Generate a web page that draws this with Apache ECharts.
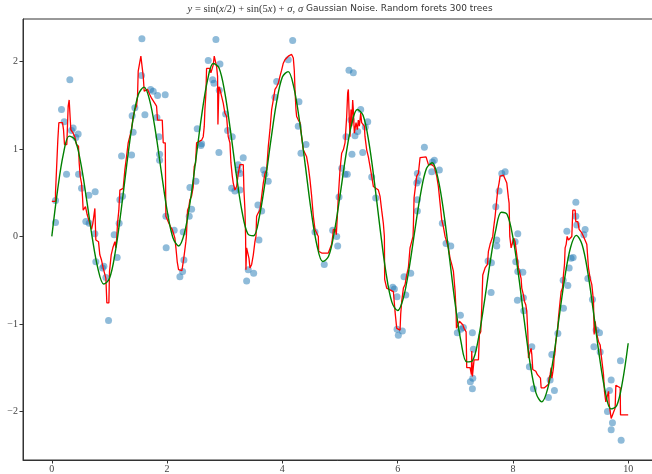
<!DOCTYPE html>
<html>
<head>
<meta charset="utf-8">
<script src="https://cdn.jsdelivr.net/npm/echarts@6/dist/echarts.min.js"></script>
<style>
  html, body { margin: 0; padding: 0; background: #fff; }
  #chart { width: 652px; height: 474px; }
</style>
</head>
<body>
<div id="chart"></div>
<script>
// Noisy training samples
const sampleX = [0.064,0.064,0.168,0.313,0.214,0.370,0.342,0.457,0.417,0.255,0.464,0.516,0.642,0.752,0.590,0.648,0.747,1.082,1.168,1.181,1.227,1.210,1.384,1.411,1.394,1.441,1.615,1.563,1.557,1.714,1.759,1.835,1.967,1.823,1.858,1.870,1.870,1.979,2.123,2.280,
  0.764,0.903,0.880,0.938,1.134,0.984,1.984,2.222,2.269,2.292,
  2.384,2.425,2.396,2.500,2.523,2.587,2.599,2.714,2.847,2.790,2.813,2.917,2.905,3.016,3.050,3.130,2.899,3.321,3.234,3.234,3.264,3.120,3.177,3.264,3.576,3.641,3.594,3.675,3.698,3.755,3.901,3.872,4.179,4.102,4.288,4.276,4.410,4.323,4.566,4.873,
  3.380,3.408,3.502,4.727,4.960,
  4.943,4.983,5.104,5.030,5.087,5.127,5.156,5.231,5.191,5.208,5.260,5.307,5.359,5.481,5.439,5.394,5.550,5.620,6.342,6.464,6.359,6.332,6.342,6.342,6.602,6.637,6.724,6.592,6.776,6.840,7.703,
  5.915,5.943,5.990,6.111,6.227,6.141,5.990,6.082,6.012,6.922,7.089,7.036,7.095,7.141,7.297,7.314,7.304,7.262,7.297,7.569,7.627,7.622,
  7.807,7.865,7.760,7.720,8.085,8.038,9.092,9.092,9.109,8.936,9.253,9.231,
  7.720,8.050,8.085,8.172,8.078,8.182,8.189,8.328,8.286,8.356,8.616,8.720,8.646,8.675,8.780,8.877,8.953,8.872,8.976,9.010,9.045,9.300,9.380,9.444,9.502,9.405,9.514,9.705,9.675,9.641,9.727,9.705,9.878,9.866];
const sampleY = [0.41,0.16,1.45,1.79,1.31,1.24,1.21,1.17,1.13,0.71,0.71,0.55,0.47,0.51,0.17,0.15,0.03,0.02,0.15,0.42,0.46,0.92,0.93,1.19,1.38,1.47,1.39,2.26,1.84,1.68,1.66,1.61,1.62,1.36,1.14,0.94,0.87,0.23,0.07,0.05,
  -0.29,-0.34,-0.36,-0.47,-0.24,-0.96,-0.13,-0.46,-0.40,-0.27,
  0.23,0.31,0.56,0.63,1.23,1.04,1.06,2.01,2.25,1.79,1.75,1.97,1.67,1.40,1.21,1.14,0.96,0.90,0.82,0.76,0.72,0.55,0.52,0.53,0.36,0.29,-0.04,0.76,0.71,0.63,1.77,1.59,2.24,2.02,1.54,1.26,1.05,0.95,0.05,0.07,
  -0.51,-0.38,-0.42,-0.32,-0.11,
  0.00,0.45,1.14,0.78,0.71,0.71,1.90,1.87,1.33,0.94,1.15,1.20,1.45,1.31,1.25,0.96,0.68,0.44,0.72,1.02,0.64,0.61,0.42,0.29,0.85,0.87,0.76,0.74,0.15,-0.08,0.34,
  -0.58,-0.60,-0.69,-0.46,-0.42,-0.67,-1.06,-1.08,-1.13,-0.11,-0.90,-1.10,-1.06,-1.04,-1.10,-1.29,-1.62,-1.66,-1.74,-0.28,-0.30,-0.64,
  0.72,0.74,0.52,-0.04,0.03,-0.06,0.39,0.23,0.13,0.06,0.08,0.02,
  -0.11,-0.29,-0.40,-0.41,-0.73,-0.70,-0.85,-1.26,-1.49,-1.74,-1.84,-1.76,-1.64,-1.35,-1.11,-0.82,-0.56,-0.50,-0.36,-0.25,-0.24,-0.48,-0.72,-1.07,-1.10,-1.26,-1.32,-1.64,-1.76,-2.00,-2.13,-2.21,-2.33,-1.42];

// Noise-free curve, sampled every 0.1 on x from 0 to 10
const trueStep = 0.1;
const trueY = [0.000,0.529,0.941,1.147,1.108,0.846,0.437,-0.008,-0.367,-0.543,
  -0.480,-0.183,0.285,0.820,1.301,1.620,1.707,1.550,1.195,0.738,
  0.298,-0.012,-0.109,0.037,0.395,0.883,1.384,1.780,1.976,1.928,
  1.648,1.206,0.712,0.285,0.030,0.008,0.223,0.619,1.096,1.535,
  1.822,1.884,1.700,1.309,0.800,0.291,-0.101,-0.287,-0.230,0.046,
  0.466,0.917,1.278,1.451,1.384,1.081,0.606,0.064,-0.424,-0.751,
  -0.847,-0.702,-0.362,0.076,0.493,0.776,0.842,0.664,0.274,-0.246,
  -0.779,-1.206,-1.434,-1.419,-1.173,-0.769,-0.316,0.067,0.276,0.251,
  -0.012,-0.454,-0.977,-1.459,-1.788,-1.891,-1.748,-1.399,-0.934,-0.471,
  -0.127,0.012,-0.092,-0.414,-0.876,-1.367,-1.765,-1.971,-1.936,-1.665,
  -1.221];

// Random forest prediction (vertices of the stepped polyline)
const forestX = [0,0.064,0.064,0.093,0.104,0.122,0.185,0.203,0.220,0.260,0.284,0.301,0.324,0.330,0.370,0.399,0.428,0.463,0.475,0.492,0.515,0.532,0.544,0.573,0.584,0.608,0.613,0.642,0.660,0.689,0.712,0.741,0.747,0.764,0.764,0.787,0.810,0.833,0.862,0.891,0.920,0.938,0.955,0.990,1.001,1.030,1.059,1.094,1.111,1.128,1.140,1.163,1.181,1.238,1.267,1.296,1.325,1.354,1.383,1.412,1.441,1.470,1.487,1.499,1.528,1.545,1.568,1.586,1.603,1.632,1.661,1.701,1.730,1.759,1.788,1.817,1.834,1.916,1.933,1.968,1.979,2.008,2.031,2.060,2.089,2.118,2.135,2.153,2.176,2.199,2.257,2.280,2.297,2.326,2.335,2.350,2.355,2.378,2.396,2.425,2.454,2.471,2.494,2.512,2.598,2.627,2.645,2.656,2.674,2.685,2.714,2.743,2.760,2.784,2.801,2.818,2.841,2.859,2.876,2.882,2.894,2.899,2.917,2.946,2.975,3.003,3.032,3.061,3.090,3.108,3.131,3.148,3.177,3.206,3.235,3.264,3.322,3.333,3.351,3.362,3.368,3.380,3.409,3.421,3.438,3.467,3.496,3.524,3.542,3.553,3.582,3.611,3.640,3.669,3.698,3.727,3.756,3.785,3.814,3.843,3.872,3.900,3.929,3.958,3.987,4.016,4.045,4.103,4.132,4.161,4.190,4.207,4.219,4.236,4.248,4.277,4.306,4.334,4.363,4.392,4.421,4.450,4.479,4.508,4.537,4.566,4.595,4.624,4.630,4.682,4.797,4.826,4.855,4.873,4.884,4.919,4.936,4.954,4.971,5.000,5.029,5.058,5.087,5.116,5.133,5.145,5.156,5.162,5.174,5.191,5.203,5.220,5.231,5.249,5.278,5.301,5.318,5.336,5.359,5.376,5.422,5.434,5.463,5.492,5.521,5.550,5.579,5.666,5.694,5.723,5.752,5.770,5.775,5.810,5.926,5.943,5.955,5.984,6.042,6.053,6.071,6.100,6.129,6.157,6.186,6.215,6.244,6.267,6.273,6.285,6.302,6.331,6.360,6.389,6.493,6.505,6.523,6.534,6.563,6.592,6.632,6.678,6.707,6.736,6.765,6.794,6.823,6.852,6.881,6.910,6.939,6.968,6.997,7.014,7.020,7.054,7.072,7.130,7.153,7.188,7.199,7.257,7.280,7.286,7.297,7.315,7.326,7.402,7.419,7.442,7.459,7.477,7.517,7.546,7.558,7.575,7.604,7.650,7.662,7.691,7.720,7.737,7.760,7.778,7.836,7.865,7.894,7.922,7.934,7.946,7.951,7.969,7.992,8.015,8.038,8.067,8.096,8.125,8.142,8.154,8.183,8.200,8.223,8.241,8.258,8.270,8.287,8.299,8.316,8.328,8.345,8.397,8.426,8.478,8.490,8.547,8.576,8.617,8.628,8.646,8.663,8.675,8.686,8.704,8.715,8.733,8.744,8.762,8.779,8.790,8.819,8.837,8.860,8.877,8.895,8.906,8.924,8.941,8.964,9.022,9.039,9.080,9.091,9.126,9.149,9.196,9.225,9.253,9.282,9.311,9.340,9.369,9.398,9.410,9.427,9.456,9.485,9.514,9.531,9.554,9.572,9.589,9.612,9.635,9.659,9.670,9.693,9.705,9.734,9.751,9.774,9.786,9.861,9.867,10.0];
const forestY = [0.40,0.40,0.50,0.50,1.10,1.30,1.30,1.22,1.05,1.05,1.49,1.56,1.57,1.22,1.18,1.14,1.05,1.03,0.84,0.69,0.61,0.46,0.30,0.30,0.34,0.34,0.25,0.23,0.15,0.08,0.15,0.15,0.32,0.32,-0.04,-0.02,-0.06,-0.21,-0.27,-0.36,-0.38,-0.48,-0.76,-0.76,-0.40,-0.21,-0.13,-0.06,-0.13,0.00,0.15,0.30,0.53,0.55,0.76,0.91,1.07,1.09,1.22,1.37,1.45,1.49,1.60,1.89,1.90,2.06,2.06,1.83,1.66,1.66,1.68,1.62,1.58,1.60,1.52,1.49,1.33,1.33,1.07,1.07,0.23,0.23,0.15,0.11,0.08,0.02,-0.02,-0.13,-0.29,-0.38,-0.39,-0.29,-0.21,-0.06,0.00,0.23,0.30,0.34,0.42,0.46,0.57,0.80,0.84,1.07,1.10,1.14,1.26,1.45,1.64,1.92,1.94,1.92,1.87,1.89,1.96,2.06,2.06,1.94,1.83,1.28,1.28,1.71,1.68,1.68,1.52,1.41,1.37,1.14,1.07,0.84,0.69,0.61,0.53,0.57,0.72,0.82,0.82,0.53,0.30,0.00,-0.38,-0.13,-0.11,-0.25,-0.36,-0.32,-0.21,-0.06,0.00,0.23,0.27,0.30,0.30,0.61,0.72,0.76,1.03,1.22,1.45,1.56,1.68,1.71,1.75,1.83,1.90,1.98,2.02,2.06,2.08,2.08,2.04,1.90,1.68,1.45,1.37,1.33,1.30,1.14,0.99,0.95,0.91,0.80,0.65,0.46,0.23,0.08,0.06,0.00,-0.17,-0.19,-0.19,-0.17,-0.09,0.00,0.08,0.08,0.02,0.23,0.46,0.76,0.95,0.99,1.07,1.37,1.64,1.68,1.68,1.33,1.14,1.45,1.26,1.56,1.45,1.18,1.30,1.22,1.33,1.26,1.41,1.30,1.26,1.14,0.99,0.91,0.80,0.69,0.57,0.53,0.46,0.30,0.15,0.00,-0.49,-0.59,-0.63,-0.65,-0.86,-1.05,-1.07,-0.89,-0.74,-0.59,-0.55,-0.44,-0.36,-0.13,-0.11,0.00,0.11,0.44,0.44,0.69,0.72,0.90,0.91,0.93,0.93,0.82,0.80,0.82,0.80,0.69,0.57,0.38,0.19,0.11,0.00,-0.02,-0.13,-0.25,-0.32,-0.40,-0.63,-0.86,-1.05,-1.05,-0.97,-1.01,-1.05,-1.09,-1.50,-1.50,-1.58,-1.31,-1.60,-1.58,-1.41,-1.41,-1.12,-1.09,-0.82,-0.44,-0.36,-0.36,-0.32,-0.17,-0.09,0.00,0.08,0.23,0.42,0.53,0.61,0.69,0.70,0.69,0.61,0.44,0.38,0.00,-0.02,-0.13,-0.13,-0.02,-0.06,-0.21,-0.36,-0.36,-0.48,-0.59,-0.67,-0.74,-0.78,-0.86,-1.09,-1.39,-1.41,-1.31,-1.28,-1.35,-1.52,-1.54,-1.58,-1.62,-1.73,-1.73,-1.71,-1.69,-1.62,-1.58,-1.50,-1.62,-1.58,-1.50,-1.39,-1.31,-1.20,-1.12,-1.05,-0.93,-0.74,-0.63,-0.59,-0.44,-0.32,-0.13,-0.09,0.00,-0.04,0.00,0.30,0.30,0.17,0.17,0.08,0.04,0.00,0.02,-0.09,-0.36,-0.48,-0.55,-0.74,-1.12,-0.97,-1.12,-1.20,-1.24,-1.35,-1.35,-1.58,-1.77,-1.89,-1.89,-1.77,-1.92,-1.94,-2.08,-2.08,-2.00,-1.96,-1.70,-1.73,-2.04,-2.04];

// Axis ticks
const xTicks = [0, 2, 4, 6, 8, 10];
const yTicks = [-2, -1, 0, 1, 2];

const samplePoints = sampleX.map((x, i) => [x, sampleY[i]]);
const truePoints = trueY.map((y, i) => [+(i * trueStep).toFixed(2), y]);
const forestPoints = forestX.map((x, i) => [x, forestY[i]]);

const tickFont = { fontFamily: 'Liberation Serif', fontSize: 10, color: '#444' };
const minusFmt = v => String(v).replace('-', '\u2212');

const chart = echarts.init(document.getElementById('chart'), null, { renderer: 'canvas' });
chart.setOption({
  animation: false,
  backgroundColor: '#fff',
  grid: {
    left: 23, right: -5, top: 19, bottom: 14,
    containLabel: false,
    outerBoundsMode: 'none',
    show: true, borderColor: '#333', borderWidth: 1, backgroundColor: 'transparent'
  },
  xAxis: {
    type: 'value', min: -0.5, max: 10.5,
    splitLine: { show: false },
    axisLine: { show: true, onZero: false, lineStyle: { color: '#333', width: 1 } },
    axisTick: { show: true, customValues: xTicks, length: 3.5, lineStyle: { color: '#333' } },
    axisLabel: Object.assign({ customValues: xTicks, margin: 4, formatter: minusFmt }, tickFont)
  },
  yAxis: {
    type: 'value', min: -2.555, max: 2.485,
    splitLine: { show: false },
    axisLine: { show: true, onZero: false, lineStyle: { color: '#333', width: 1 } },
    axisTick: { show: true, customValues: yTicks, length: 3.5, lineStyle: { color: '#333' } },
    axisLabel: Object.assign({ customValues: yTicks, margin: 5, formatter: minusFmt }, tickFont)
  },
  graphic: [{
    type: 'text',
    x: 340, y: 9,
    style: {
      text: '{m|y} {r|= sin(}{m|x}{r|/2) + sin(5}{m|x}{r|) +} {m|σ}{r|,} {m|σ} Gaussian Noise. Random forets 300 trees',
      align: 'center', verticalAlign: 'middle',
      fontFamily: 'DejaVu Sans', fontSize: 9, fill: '#333',
      rich: {
        m: { fontFamily: 'Liberation Serif', fontStyle: 'italic', fontSize: 10.5, fill: '#333' },
        r: { fontFamily: 'Liberation Serif', fontSize: 10.5, fill: '#333' }
      }
    }
  }],
  series: [
    {
      name: 'samples', type: 'scatter', data: samplePoints, z: 1,
      symbolSize: 7,
      itemStyle: { color: '#1f77b4', opacity: 0.5 }
    },
    {
      name: 'forest', type: 'line', data: forestPoints, z: 2,
      showSymbol: false, symbol: 'none',
      lineStyle: { color: '#ff0000', width: 1.3 }
    },
    {
      name: 'truth', type: 'line', data: truePoints, z: 3,
      showSymbol: false, symbol: 'none', smooth: 0.35,
      lineStyle: { color: '#008000', width: 1.4 }
    }
  ]
});
</script>
</body>
</html>
